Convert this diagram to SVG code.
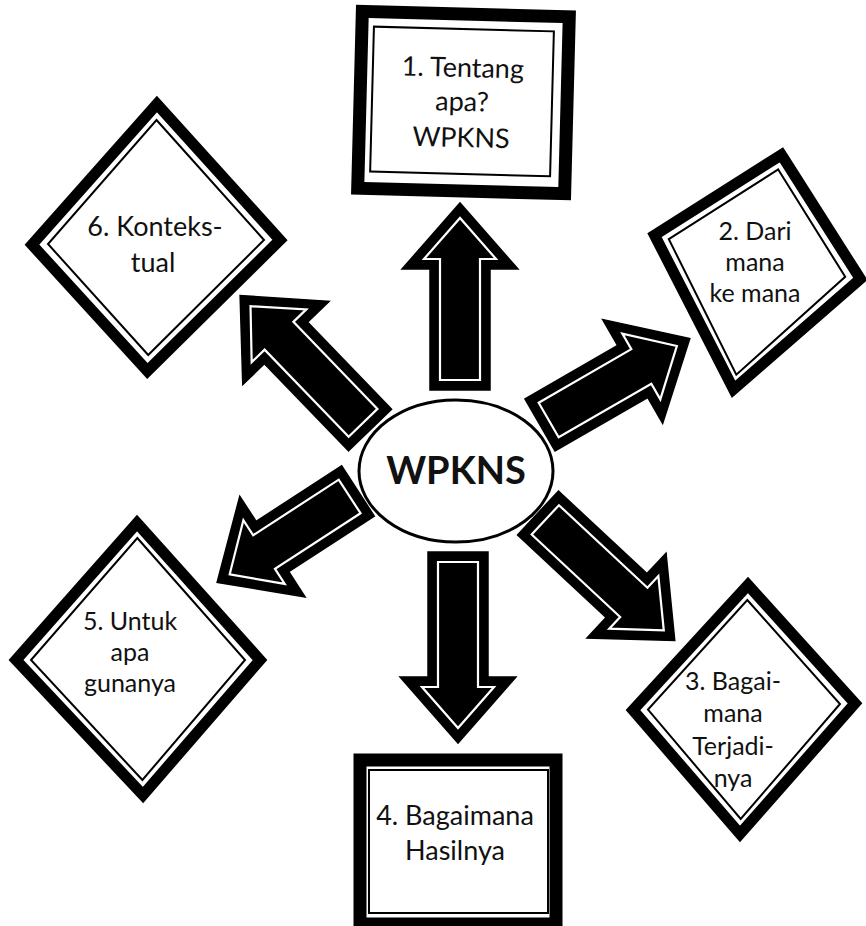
<svg xmlns="http://www.w3.org/2000/svg" width="866" height="926" viewBox="0 0 866 926">
<style>
.bg{fill:#ffffff}
.frame{fill:#ffffff;stroke:#000;stroke-width:11;stroke-linejoin:miter}
.rframe{fill:#ffffff;stroke:#000;stroke-width:13}
.thin{fill:none;stroke:#000;stroke-width:2}
.arr{fill:#000;stroke:#000;stroke-width:1.5;stroke-linejoin:miter}
.arrin{fill:none;stroke:#fff;stroke-width:2.2;stroke-linejoin:miter}
.t{font-family:Lato,"Open Sans","DejaVu Sans",sans-serif;fill:#111;text-anchor:middle}
.hub{font-family:Lato,"Open Sans","DejaVu Sans",sans-serif;font-weight:bold;fill:#111;text-anchor:middle;font-size:38px}
</style>
<rect class="bg" x="0" y="0" width="866" height="926"/>
<g id="connectors">
  <g transform="translate(460,390) rotate(-90)">
    <path class="arr" d="M0,-30 H121 V-58 L187,0 L121,58 V30 H0 Z"/>
    <path class="arrin" d="M10,-20 H131 V-36 L172,0 L131,36 V20 H10 Z"/>
  </g>
  <g transform="translate(458,552) rotate(90)">
    <path class="arr" d="M0,-30 H125 V-58 L191,0 L125,58 V30 H0 Z"/>
    <path class="arrin" d="M10,-20 H135 V-36 L176,0 L135,36 V20 H10 Z"/>
  </g>
  <g transform="translate(540,425) rotate(-30)">
    <path class="arr" d="M0,-30 H107 V-60 L173,0 L107,60 V30 H0 Z"/>
    <path class="arrin" d="M10,-20 H117 V-38 L158,0 L117,38 V20 H10 Z"/>
  </g>
  <g transform="translate(370,430) rotate(-134)">
    <path class="arr" d="M0,-30 H121 V-60 L187,0 L121,60 V30 H0 Z"/>
    <path class="arrin" d="M10,-20 H131 V-38 L172,0 L131,38 V20 H10 Z"/>
  </g>
  <g transform="translate(358,491) rotate(147)">
    <path class="arr" d="M0,-30 H102 V-60 L168,0 L102,60 V30 H0 Z"/>
    <path class="arrin" d="M10,-20 H112 V-38 L153,0 L112,38 V20 H10 Z"/>
  </g>
  <g transform="translate(538,513) rotate(43)">
    <path class="arr" d="M0,-30 H121 V-58 L187,0 L121,58 V30 H0 Z"/>
    <path class="arrin" d="M10,-20 H131 V-36 L172,0 L131,36 V20 H10 Z"/>
  </g>
</g>
<g id="node-center">
  <ellipse cx="456" cy="471" rx="97" ry="71" fill="#fff" stroke="#000" stroke-width="3"/>
  <text class="hub" x="456" y="484">WPKNS</text>
</g>
<g id="node-1" transform="rotate(1.5,463,102)">
  <rect class="rframe" x="360" y="14" width="207" height="177"/>
  <rect class="thin" x="372" y="29" width="180" height="145"/>
  <text class="t" font-size="27"><tspan x="462" y="77">1. Tentang</tspan><tspan x="462" y="111">apa?</tspan><tspan x="462" y="147">WPKNS</tspan></text>
</g>
<g id="node-2">
  <polygon class="frame" points="781.4,154.8 860.3,278.9 733.5,389.3 654.5,235.1"/>
  <polygon class="thin" points="778.2,169.5 845.2,276.8 736.3,374.7 668.8,239.1"/>
  <text class="t" font-size="25"><tspan x="755" y="240">2. Dari</tspan><tspan x="755" y="271">mana</tspan><tspan x="755" y="302">ke mana</tspan></text>
</g>
<g id="node-3">
  <polygon class="frame" points="748,585 855,703.3 740,834 633,710"/>
  <polygon class="thin" points="747.3,600 840,704 740.7,819 648,709.6"/>
  <text class="t" font-size="25"><tspan x="733" y="690">3. Bagai-</tspan><tspan x="733" y="722">mana</tspan><tspan x="733" y="755">Terjadi-</tspan><tspan x="733" y="787">nya</tspan></text>
</g>
<g id="node-4">
  <rect class="rframe" x="360" y="760" width="196" height="164" stroke-width="14"/>
  <rect class="thin" x="369" y="770" width="179" height="143"/>
  <text class="t" font-size="27"><tspan x="455" y="825">4. Bagaimana</tspan><tspan x="455" y="860">Hasilnya</tspan></text>
</g>
<g id="node-5">
  <polygon class="frame" points="137,523 260,660 143,795 16,660"/>
  <polygon class="thin" points="137.3,538 245,660 142.4,780 31,660"/>
  <text class="t" font-size="25"><tspan x="130" y="630">5. Untuk</tspan><tspan x="130" y="661">apa</tspan><tspan x="130" y="692">gunanya</tspan></text>
</g>
<g id="node-6">
  <polygon class="frame" points="156.9,104 280,240 147.4,371 32,244.7"/>
  <polygon class="thin" points="156.5,120 264,240 148.2,355 48,244"/>
  <text class="t" font-size="27"><tspan x="155" y="236">6. Konteks-</tspan><tspan x="153" y="272">tual</tspan></text>
</g>
</svg>
